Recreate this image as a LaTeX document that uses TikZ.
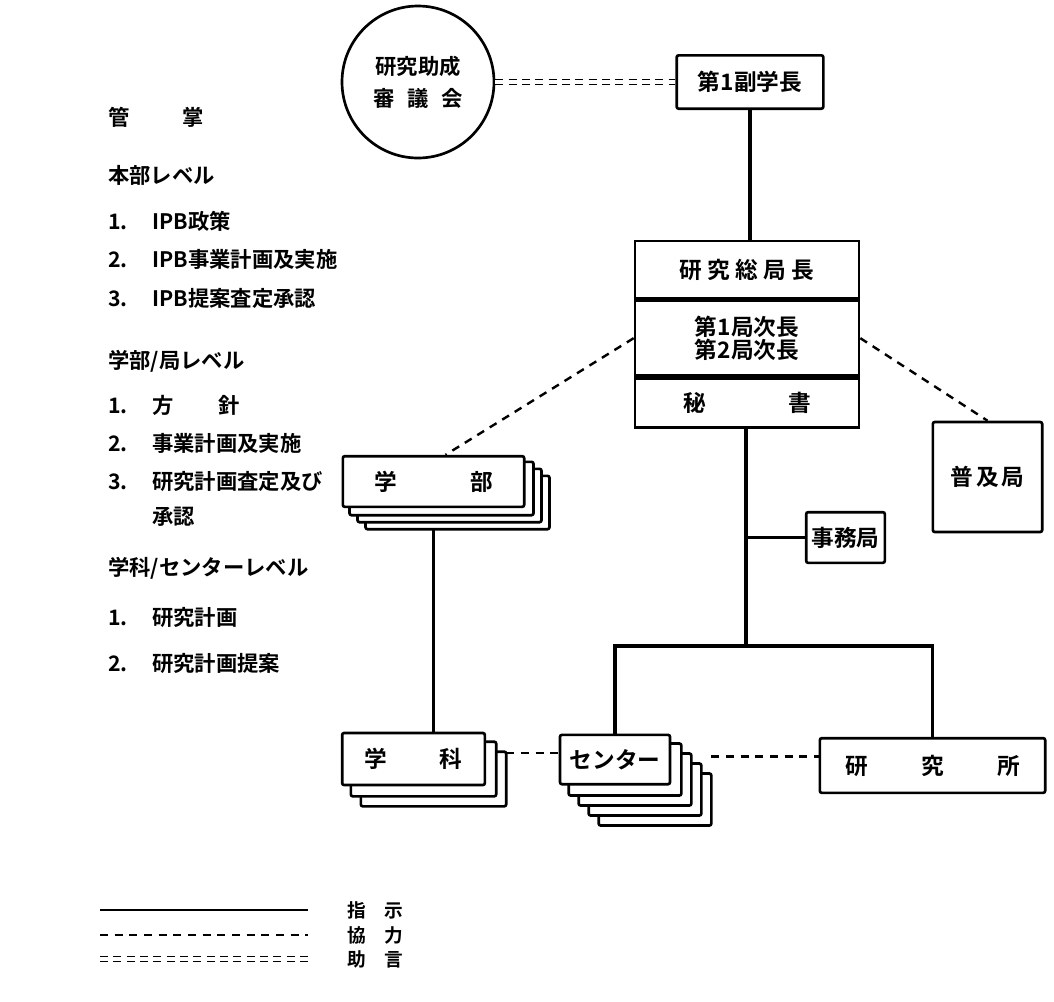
\documentclass[tikz,border=0pt]{standalone}
\usepackage{fontspec}
\setmainfont{Noto Sans CJK JP}[BoldFont={* Bold}]
\usetikzlibrary{positioning,backgrounds}
\tikzset{
    unit/.style={draw,line width=2pt,rounded corners=1.5pt,fill=white,inner sep=2pt,
        font=\bfseries\fontsize{17}{19}\selectfont},
    part/.style={unit,sharp corners,minimum width=168pt},
    card/.style={draw,line width=2pt,rounded corners=1.5pt,fill=white},
    council/.style={circle,draw,line width=2pt,minimum size=114pt,align=center,
        font=\bfseries\fontsize{16}{24}\selectfont},
    level/.style={inner sep=0pt,text height=12pt,text depth=4pt,
        font=\bfseries\fontsize{16}{19}\selectfont},
    key/.style={anchor=west,inner sep=0pt,font=\bfseries\fontsize{14}{16}\selectfont},
    order/.style={line width=2.6pt},
    coop/.style={line width=1.8pt,dash pattern=on 6pt off 5pt},
    advice/.style={line width=1.1pt,double,double distance=2.4pt,dash pattern=on 6pt off 4pt},
}
\begin{document}
\begin{tikzpicture}[x=0.75pt,y=-0.75pt]
    \useasboundingbox (0,0) rectangle (1054,1001);
    % list of responsibilities
    \node[level,anchor=west] (kansho) at (108,120) {管\hspace{2.5em}掌};
    \node[level,below=27pt of kansho.south west,anchor=north west] (honbu) {本部レベル};
    \node[level,below=18pt of honbu.south west,anchor=north west] (hb1) {\makebox[33pt][l]{1.}IPB政策};
    \node[level,below=12.5pt of hb1.south west,anchor=north west] (hb2) {\makebox[33pt][l]{2.}IPB事業計画及実施};
    \node[level,below=12.5pt of hb2.south west,anchor=north west] (hb3) {\makebox[33pt][l]{3.}IPB提案査定承認};
    \node[level,below=30pt of hb3.south west,anchor=north west] (gakubulv) {学部/局レベル};
    \node[level,below=18pt of gakubulv.south west,anchor=north west] (gb1) {\makebox[33pt][l]{1.}方\hspace{2.1em}針};
    \node[level,below=12pt of gb1.south west,anchor=north west] (gb2) {\makebox[33pt][l]{2.}事業計画及実施};
    \node[level,below=12pt of gb2.south west,anchor=north west] (gb3) {\makebox[33pt][l]{3.}研究計画査定及び};
    \node[level,below=10pt of gb3.south west,anchor=north west,xshift=33pt] (gb3b) {承認};
    \node[level,below=21.5pt of gb3b.south west,anchor=north west,xshift=-33pt] (gakkalv) {学科/センターレベル};
    \node[level,below=21.5pt of gakkalv.south west,anchor=north west] (gk1) {\makebox[33pt][l]{1.}研究計画};
    \node[level,below=17.5pt of gk1.south west,anchor=north west] (gk2) {\makebox[33pt][l]{2.}研究計画提案};

    % top of the chart
    \node[council] (council) at (418,82) {研究助成\\審\hspace{0.6em}議\hspace{0.6em}会};
    \node[unit,minimum width=110pt,minimum height=40pt] (rector) at (750,82) {第1副学長};
    \node[part,minimum height=43pt] (head) at (747,269.5) {研\hspace{4pt}究\hspace{4pt}総\hspace{4pt}局\hspace{4pt}長};
    \node[part,minimum height=56pt,below=0pt of head,align=center,
        font=\bfseries\fontsize{17}{17.5}\selectfont] (deputy) {第1局次長\\第2局次長};
    \node[part,minimum height=37pt,below=0pt of deputy] (secr) {秘\hspace{62pt}書};
    \node[unit,minimum width=82pt,minimum height=82.5pt] (fukyu) at (987.5,477) {普\hspace{2pt}及\hspace{2pt}局};
    \node[unit,minimum width=59pt,minimum height=38pt,inner sep=1pt] (jimu) at (845.5,537.5) {事務局};

    % faculties, departments, centres
    \node[unit,minimum width=136pt,minimum height=38pt] (gakubu) at (433.5,481.5) {学\hspace{55pt}部};
    \node[unit,minimum width=107pt,minimum height=39pt] (gakka) at (413.5,759) {学\hspace{39pt}科};
    \node[unit,minimum width=82.5pt,minimum height=37pt] (ctr) at (615,759.5) {センター};
    \node[unit,minimum width=169pt,minimum height=41pt] (inst) at (932.5,765.5) {研\hspace{40pt}究\hspace{40pt}所};
    \begin{scope}[on background layer]
        \foreach \i in {3,2,1}
            \draw[card] ([shift={(8*\i,7*\i)}]gakubu.south west) rectangle ([shift={(8*\i,7*\i)}]gakubu.north east);
        \foreach \i in {2,1}
            \draw[card] ([shift={(10*\i,10*\i)}]gakka.south west) rectangle ([shift={(10*\i,10*\i)}]gakka.north east);
        \foreach \i in {4,3,2,1}
            \draw[card] ([shift={(10*\i,10*\i)}]ctr.south west) rectangle ([shift={(10*\i,10*\i)}]ctr.north east);
    \end{scope}

    % connectors
    \coordinate (fork) at (746,646);
    \coordinate (gkend) at ([shift={(20,-6)}]gakka.east);
    \coordinate (ctrend) at ([shift={(40,-3)}]ctr.east);
    \draw[advice] (council.east) -- (council.east -| rector.west);
    \draw[order] (rector.south) -- (rector.south |- head.north);
    \draw[order] (secr.south -| fork) -- (fork);
    \draw[order] (ctr.north) |- (fork) -| (inst.north);
    \draw[order] (jimu.west) -- (jimu.west -| fork);
    \draw[coop] (deputy.west) -- ([xshift=9pt]gakubu.north);
    \draw[coop] (deputy.east) -- (fukyu.north);
    \draw[order] ([shift={(0,21)}]gakubu.south) -- (gakubu.south |- gakka.north);
    \draw[coop] (gkend) -- (gkend -| ctr.west);
    \draw[coop] (ctrend) -- (ctrend -| inst.west);

    % legend
    \coordinate (legorder) at (100,910);
    \coordinate (legcoop) at (100,935);
    \coordinate (legadvice) at (100,959);
    \node[key] (korder) at (347,910) {指\hspace{1em}示};
    \node[key] (kcoop) at (347,935) {協\hspace{1em}力};
    \node[key] (kadvice) at (347,959) {助\hspace{1em}言};
    \draw[order,line width=1.4pt,shorten >=29pt] (legorder) -- (legorder -| korder.west);
    \draw[coop,line width=1.4pt,shorten >=29pt] (legcoop) -- (legcoop -| kcoop.west);
    \draw[advice,line width=0.9pt,shorten >=29pt] (legadvice) -- (legadvice -| kadvice.west);
\end{tikzpicture}
\end{document}
